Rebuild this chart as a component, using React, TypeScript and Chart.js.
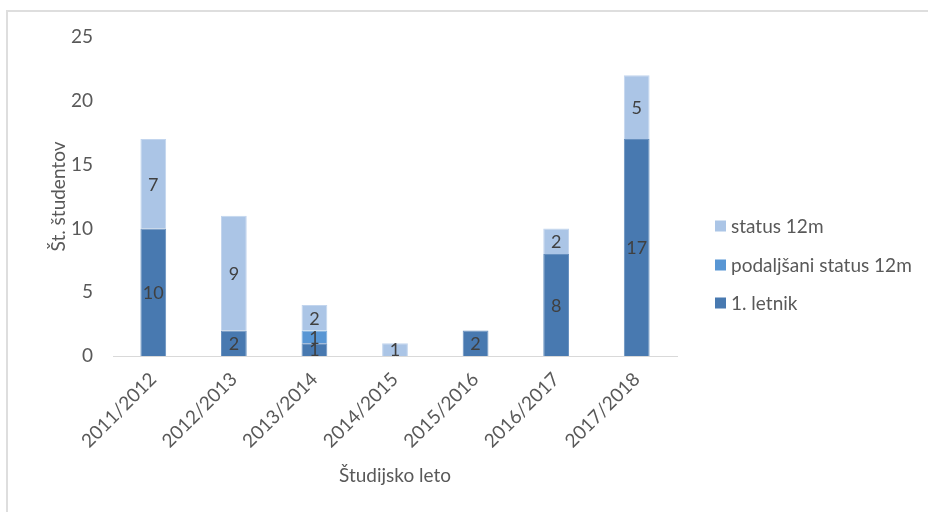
import React, { useEffect, useRef } from "react";
import { Chart, registerables } from "chart.js";

Chart.register(...registerables);

const categories = ["2011/2012", "2012/2013", "2013/2014", "2014/2015", "2015/2016", "2016/2017", "2017/2018"];
const prviLetnik = [10, 2, 1, 0, 2, 8, 17];
const podaljsaniStatus = [0, 0, 1, 0, 0, 0, 0];
const status12m = [7, 9, 2, 1, 0, 2, 5];
const yTicks = [0, 5, 10, 15, 20, 25];

const FONT = "Lato";
const TEXT = "#595959";

const dataLabelPlugin = {
  id: "dataLabels",
  afterDatasetsDraw(chart: any) {
    const ctx = chart.ctx;
    ctx.save();
    ctx.font = `18px ${FONT}`;
    ctx.fillStyle = "#404040";
    ctx.textAlign = "center";
    ctx.textBaseline = "middle";
    chart.data.datasets.forEach((ds: any, i: number) => {
      const meta = chart.getDatasetMeta(i);
      meta.data.forEach((bar: any, j: number) => {
        const v = ds.data[j];
        if (!v) return;
        const { x, y, base } = bar.getProps(["x", "y", "base"], true);
        ctx.fillText(String(v), x, (y + base) / 2 + 1);
      });
    });
    ctx.restore();
  },
};

const legendPlugin = {
  id: "customLegend",
  afterDraw(chart: any) {
    const ctx = chart.ctx;
    ctx.save();
    ctx.font = `19px ${FONT}`;
    ctx.textBaseline = "middle";
    ctx.textAlign = "left";
    const order = [2, 1, 0];
    const ys = [226, 265, 303];
    order.forEach((di, k) => {
      const ds = chart.data.datasets[di];
      ctx.fillStyle = ds.backgroundColor;
      ctx.fillRect(715, ys[k] - 5.5, 11, 11);
      ctx.fillStyle = TEXT;
      ctx.fillText(ds.label, 731, ys[k] + 1);
    });
    ctx.restore();
  },
};

export default function App() {
  const ref = useRef<HTMLCanvasElement>(null);
  useEffect(() => {
    if (!ref.current) return;
    const chart = new Chart(ref.current, {
      type: "bar",
      data: {
        labels: categories,
        datasets: [
          { label: "1. letnik", data: prviLetnik, backgroundColor: "#4879b0", borderColor: "#6790bf", borderWidth: 1 },
          { label: "podaljšani status 12m", data: podaljsaniStatus, backgroundColor: "#5896d4", borderColor: "#78abdc", borderWidth: 1 },
          { label: "status 12m", data: status12m, backgroundColor: "#abc5e6", borderColor: "#c2d5ee", borderWidth: 1 },
        ],
      },
      plugins: [dataLabelPlugin, legendPlugin],
      options: {
        animation: false,
        responsive: false,
        maintainAspectRatio: false,
        layout: { padding: { left: 0, right: 251, top: 37, bottom: 0 } },
        datasets: { bar: { barPercentage: 0.8, categoryPercentage: 0.4 } },
        plugins: { legend: { display: false }, tooltip: { enabled: false } },
        scales: {
          x: {
            stacked: true,
            grid: { display: false, drawTicks: false },
            border: { display: true, color: "#d9d9d9", width: 1 },
            ticks: { color: TEXT, font: { family: FONT, size: 19 }, maxRotation: 45, minRotation: 45, padding: 12 },
            title: { display: true, text: "Študijsko leto", color: TEXT, font: { family: FONT, size: 19 }, padding: { top: 0, bottom: 25 } },
            afterFit(scale: any) {
              scale.height = 156;
            },
          },
          y: {
            stacked: true,
            min: 0,
            max: 25,
            grid: { display: false, drawTicks: false },
            border: { display: false },
            afterBuildTicks(scale: any) {
              scale.ticks = yTicks.map((v) => ({ value: v }));
            },
            ticks: { color: TEXT, font: { family: FONT, size: 19 }, padding: 20 },
            title: { display: true, text: "Št. študentov", color: TEXT, font: { family: FONT, size: 19 }, padding: { top: 47, bottom: 0 } },
            afterFit(scale: any) {
              scale.width = 113;
            },
          },
        },
      },
    });
    return () => chart.destroy();
  }, []);

  return (
    <div style={{ position: "fixed", left: 0, top: 0, width: 928, height: 512, overflow: "hidden", background: "#fff" }}>
      <div
        style={{
          position: "absolute",
          left: 6,
          top: 10,
          width: 922,
          height: 502,
          borderTop: "2px solid #dedede",
          borderLeft: "2px solid #dedede",
          boxSizing: "border-box",
        }}
      />
      <canvas ref={ref} width={928} height={512} style={{ position: "absolute", left: 0, top: 0, width: 928, height: 512 }} />
    </div>
  );
}
